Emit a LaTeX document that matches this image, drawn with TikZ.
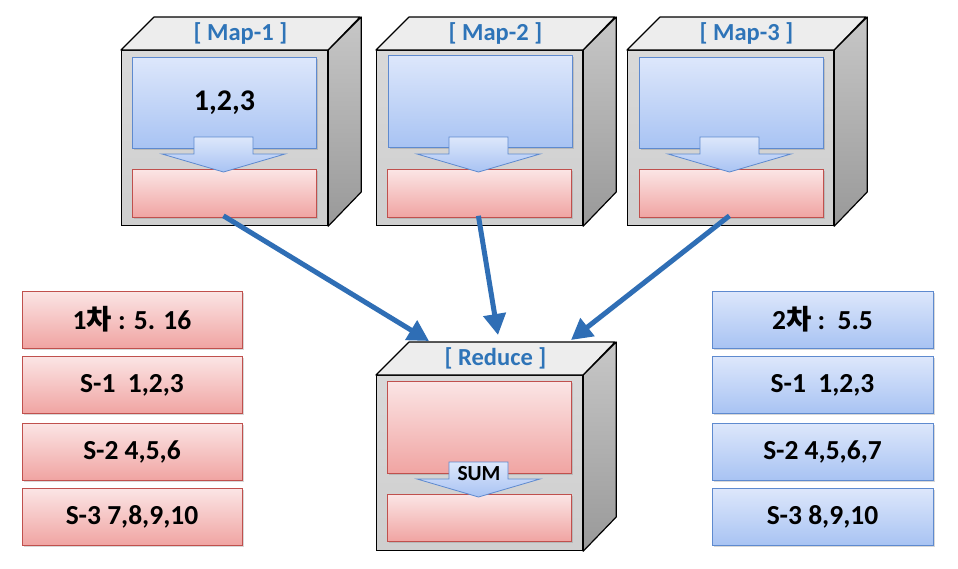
\documentclass[tikz,border=0pt]{standalone}
\usepackage{fontspec}
\setmainfont{Carlito}
\newfontfamily\kr{Noto Sans CJK KR}
\usetikzlibrary{arrows.meta,shadows,calc}
\definecolor{blueTop}{HTML}{DDE7FB}
\definecolor{blueBot}{HTML}{A8C3F3}
\definecolor{blueBorder}{HTML}{5E8ACF}
\definecolor{redTop}{HTML}{FBE5E5}
\definecolor{redBot}{HTML}{F0A4A2}
\definecolor{redBorder}{HTML}{C0504D}
\definecolor{titleBlue}{HTML}{2E74B8}
\definecolor{arrowBlue}{HTML}{2F6EB5}
\tikzset{
  frontface/.style={draw=black, line width=1.2pt, top color=black!15, bottom color=black!19, minimum width=206pt, minimum height=175pt, inner sep=0pt},
  topface/.style={draw=black, line width=1.2pt, fill=black!7, line join=round},
  rightface/.style={draw=black, line width=1.2pt, top color=black!22, bottom color=black!40, line join=round},
  bluebox/.style={draw=blueBorder, line width=0.8pt, top color=blueTop, bottom color=blueBot, inner sep=0pt,
    drop shadow={shadow xshift=1.5pt, shadow yshift=-1.5pt, opacity=0.3}},
  redbox/.style={draw=redBorder, line width=0.8pt, top color=redTop, bottom color=redBot, inner sep=0pt,
    drop shadow={shadow xshift=1.5pt, shadow yshift=-1.5pt, opacity=0.3}},
  downarrow/.style={draw=blueBorder, line width=0.8pt, top color=blueTop, bottom color=blueBot, line join=miter},
  cubetitle/.style={text=titleBlue, font=\fontsize{24.5}{26}\selectfont\bfseries},
  listtext/.style={font=\fontsize{27.5}{29}\selectfont\bfseries, text=black},
  redlist/.style={redbox, listtext, minimum width=220pt, minimum height=57pt},
  bluelist/.style={bluebox, listtext, minimum width=221pt, minimum height=57pt},
  flow/.style={draw=arrowBlue, line width=5pt, -{Triangle[length=21pt,width=22pt]}, shorten >=0pt},
}
% cube: #1 name, #2 x, #3 y (front face top-left), #4 title
\newcommand\mycube[4]{%
  \node[frontface, anchor=north west] (#1) at (#2,#3) {};
  \path[topface] (#1.north west) -- ++(33,-33) -- ++(206,0) -- (#1.north east) -- cycle;
  \path[rightface] (#1.north east) -- ++(33,-33) -- ++(0,175) -- (#1.south east) -- cycle;
  \node[cubetitle] (#1t) at ({#2+119.5},{#3-17}) {#4};
}
\newcommand\myarrow[2]{% #1 x, #2 y of front face top-left
  \path[downarrow] ({#1+73},{#2+87}) -- ({#1+132},{#2+87}) -- ({#1+132},{#2+104}) -- ({#1+164},{#2+104})
    -- ({#1+102.5},{#2+122}) -- ({#1+41},{#2+104}) -- ({#1+73},{#2+104}) -- cycle;
}
\begin{document}
\begin{tikzpicture}[x=1pt,y=-1pt]
\useasboundingbox (0,0) rectangle (958,568);
\fill[white] (0,0) rectangle (958,568);

% Map cubes
\mycube{m1}{121}{50}{[ Map-1 ]}
\node[bluebox, anchor=north west, minimum width=184pt, minimum height=91pt, font=\fontsize{30}{32}\selectfont\bfseries] (m1b) at (132,57) {1,2,3};
\node[redbox, anchor=north west, minimum width=184pt, minimum height=48pt] (m1r) at (132,169) {};
\myarrow{121}{50}

\mycube{m2}{376}{50}{[ Map-2 ]}
\node[bluebox, anchor=north west, minimum width=184pt, minimum height=92pt] (m2b) at (388,55) {};
\node[redbox, anchor=north west, minimum width=184pt, minimum height=48pt] (m2r) at (387,169) {};
\myarrow{376}{50}

\mycube{m3}{627}{50}{[ Map-3 ]}
\node[bluebox, anchor=north west, minimum width=184pt, minimum height=91pt] (m3b) at (639,57) {};
\node[redbox, anchor=north west, minimum width=184pt, minimum height=48pt] (m3r) at (639,169) {};
\myarrow{627}{50}

% Reduce cube
\mycube{rd}{376}{375}{[ Reduce ]}
\node[redbox, anchor=north west, minimum width=184pt, minimum height=92pt] (rdu) at (387,381) {};
\node[redbox, anchor=north west, minimum width=184pt, minimum height=47pt] (rdl) at (387,494) {};
\myarrow{376}{375}
\node[font=\fontsize{21.5}{23}\selectfont\bfseries] (sum) at (479,474) {SUM};

% connectors
\coordinate (r1) at (429,341);
\coordinate (r2) at (498,335);
\coordinate (r3) at (571,340);
\draw[flow] ($(m1r.south)+(-1,-2)$) -- (r1);
\draw[flow] ($(m2r.south)+(-1,-2)$) -- (r2);
\draw[flow] ($(m3r.south)+(-2,-2)$) -- (r3);

% left list
\node[redlist] (L1) at (132,319.5) {1{\kr 차} : 5. 16};
\node[redlist] (L2) at (132,385) {S-1\ \ 1,2,3};
\node[redlist] (L3) at (132,451.5) {S-2 4,5,6};
\node[redlist] (L4) at (132,517) {S-3 7,8,9,10};

% right list
\node[bluelist] (R1) at (822.5,319.5) {2{\kr 차} :\ \ 5.5};
\node[bluelist] (R2) at (822.5,385) {S-1\ \ 1,2,3};
\node[bluelist] (R3) at (822.5,451.5) {S-2 4,5,6,7};
\node[bluelist] (R4) at (822.5,517) {S-3 8,9,10};
\end{tikzpicture}
\end{document}
